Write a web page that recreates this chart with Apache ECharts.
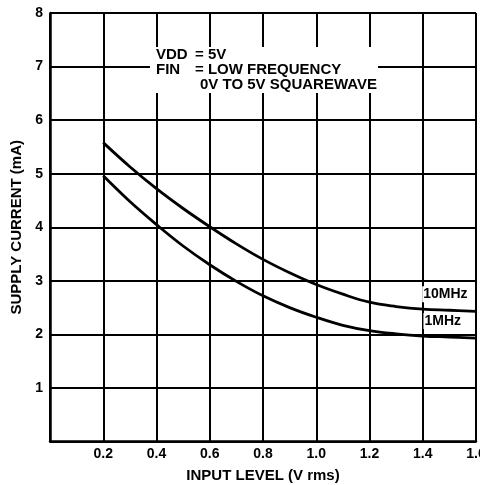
<!DOCTYPE html>
<html><head><meta charset="utf-8">
<script src="https://cdn.jsdelivr.net/npm/echarts@6/dist/echarts.min.js"></script>
<style>html,body{margin:0;padding:0;background:#fff;overflow:hidden}#c{width:480px;height:485px}</style>
</head><body><div id="c"></div>
<script>
const inputLevel = [0.2, 0.3, 0.4, 0.5, 0.6, 0.7, 0.8, 0.9, 1.0, 1.1, 1.2, 1.3, 1.4, 1.5, 1.6];
const current10MHz = [5.58, 5.13, 4.72, 4.35, 4.01, 3.69, 3.40, 3.15, 2.93, 2.75, 2.60, 2.52, 2.47, 2.45, 2.43];
const current1MHz = [4.96, 4.48, 4.05, 3.65, 3.30, 2.99, 2.72, 2.50, 2.32, 2.17, 2.07, 2.01, 1.97, 1.95, 1.93];
const seriesNames = ['10MHz', '1MHz'];
const labelPos = [[1.485, 2.75], [1.475, 2.25]];
const noteLines = ['VDD', 'FIN', '= 5V', '= LOW FREQUENCY', '0V TO 5V SQUAREWAVE'];

const FONT = '"Liberation Sans", Arial, sans-serif';
const chart = echarts.init(document.getElementById('c'));
function mkSeries(name, vals, lp) {
  return {
    name, type: 'line', smooth: 0.4, showSymbol: false, symbol: 'none',
    data: inputLevel.map((x, i) => [x, vals[i]]),
    lineStyle: { color: '#000', width: 2.8 },
    z: 5,
    markPoint: {
      symbol: 'rect', symbolSize: 1, itemStyle: { color: 'rgba(0,0,0,0)' },
      data: [{ coord: lp }],
      label: { show: true, position: 'inside', formatter: name, color: '#000', fontWeight: 'bold',
        fontFamily: FONT, fontSize: 14, backgroundColor: '#fff', padding: [1, 1] }
    }
  };
}
const txt = (x, y, t) => ({ type: 'text', left: x, top: y, z: 101,
  style: { text: t, fill: '#000', font: 'bold 15px ' + FONT } });
chart.setOption({
  animation: false,
  backgroundColor: '#fff',
  grid: { left: 50, right: 4, top: 13, bottom: 43.5, containLabel: false, outerBoundsMode: 'none' },
  xAxis: {
    type: 'value', min: 0, max: 1.6, interval: 0.2,
    name: 'INPUT LEVEL (V rms)', nameLocation: 'middle', nameGap: 27,
    nameTextStyle: { color: '#000', fontWeight: 'bold', fontFamily: FONT, fontSize: 15 },
    axisLine: { show: true, lineStyle: { color: '#000', width: 2.5 } },
    axisTick: { show: false },
    axisLabel: { showMinLabel: false, color: '#000', fontWeight: 'bold', fontFamily: FONT, fontSize: 14, margin: 6,
      formatter: v => v.toFixed(1) },
    splitLine: { show: true, lineStyle: { color: '#000', width: 2 } }
  },
  yAxis: {
    type: 'value', min: 0, max: 8, interval: 1,
    name: 'SUPPLY CURRENT (mA)', nameLocation: 'middle', nameGap: 23, nameRotate: 90,
    nameTextStyle: { color: '#000', fontWeight: 'bold', fontFamily: FONT, fontSize: 15 },
    axisLine: { show: true, lineStyle: { color: '#000', width: 2.5 } },
    axisTick: { show: false },
    axisLabel: { showMinLabel: false, color: '#000', fontWeight: 'bold', fontFamily: FONT, fontSize: 14, margin: 7 },
    splitLine: { show: true, lineStyle: { color: '#000', width: 2 } }
  },
  graphic: [
    { type: 'rect', shape: { x: 150, y: 47, width: 228, height: 46 }, style: { fill: '#fff' }, z: 100 },
    txt(156, 47, noteLines[0]), txt(156, 62, noteLines[1]),
    txt(195, 47, noteLines[2]), txt(195, 62, noteLines[3]),
    txt(200, 77, noteLines[4])
  ],
  series: [mkSeries(seriesNames[0], current10MHz, labelPos[0]), mkSeries(seriesNames[1], current1MHz, labelPos[1])]
});
</script></body></html>
